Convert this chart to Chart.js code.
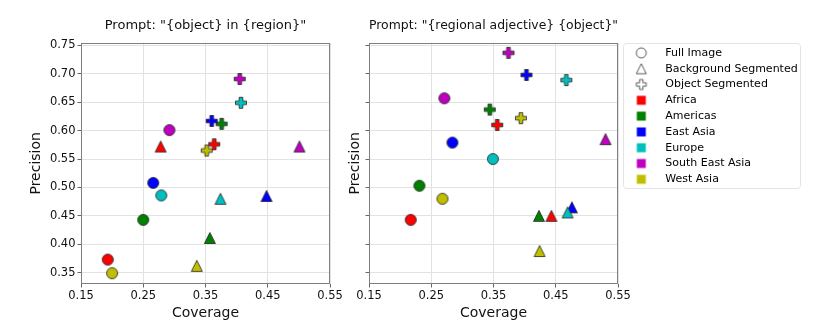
<!DOCTYPE html>
<html>
<head>
<meta charset="utf-8">
<script src="https://cdn.jsdelivr.net/npm/chart.js@4.4.1/dist/chart.umd.min.js"></script>
<style>
  body { margin: 0; background: #fff; }
  #wrap { position: relative; width: 820px; height: 330px; }
  canvas { position: absolute; top: 0; }
  #left { left: 0; }
  #right { left: 340px; }
</style>
</head>
<body>
<div id="wrap">
  <canvas id="left" width="360" height="330"></canvas>
  <canvas id="right" width="480" height="330"></canvas>
</div>
<script>
const regions = ["Africa", "Americas", "East Asia", "Europe", "South East Asia", "West Asia"];
const regionColors = ["#ff0000", "#008000", "#0000ff", "#00bfbf", "#bf00bf", "#bfbf00"];
const markerNames = ["Full Image", "Background Segmented", "Object Segmented"];
const markerShapes = ["circle", "triangle", "plus"];

const xTicks = [0.15, 0.25, 0.35, 0.45, 0.55];
const yTicks = [0.35, 0.40, 0.45, 0.50, 0.55, 0.60, 0.65, 0.70, 0.75];

// Prompt: "{object} in {region}"
const inFullCov = [0.193, 0.250, 0.266, 0.279, 0.292, 0.200];
const inFullPrec = [0.373, 0.443, 0.508, 0.486, 0.601, 0.349];
const inBgCov = [0.278, 0.357, 0.448, 0.374, 0.501, 0.336];
const inBgPrec = [0.572, 0.411, 0.485, 0.480, 0.572, 0.362];
const inObjCov = [0.364, 0.376, 0.360, 0.407, 0.405, 0.352];
const inObjPrec = [0.576, 0.612, 0.617, 0.649, 0.691, 0.565];

// Prompt: "{regional adjective} {object}"
const adjFullCov = [0.217, 0.231, 0.284, 0.349, 0.271, 0.268];
const adjFullPrec = [0.443, 0.503, 0.579, 0.550, 0.657, 0.480];
const adjBgCov = [0.443, 0.423, 0.476, 0.469, 0.530, 0.424];
const adjBgPrec = [0.450, 0.450, 0.465, 0.456, 0.585, 0.388];
const adjObjCov = [0.356, 0.344, 0.403, 0.467, 0.374, 0.394];
const adjObjPrec = [0.610, 0.637, 0.698, 0.689, 0.737, 0.622];

const FONT = "'DejaVu Sans', sans-serif";
const TEXT = "#111";

// small canvases used as point styles (matplotlib-like markers)
function marker(shape, fill, stroke, size) {
  const c = document.createElement("canvas");
  c.width = c.height = 16;
  const g = c.getContext("2d");
  const h = size / 2;
  g.translate(8, 8);
  g.beginPath();
  if (shape === "circle") {
    g.arc(0, 0, h, 0, Math.PI * 2);
  } else if (shape === "triangle") {
    g.moveTo(0, -h); g.lineTo(h, h); g.lineTo(-h, h); g.closePath();
  } else if (shape === "plus") {
    const a = size / 6;
    g.moveTo(-a, -h); g.lineTo(a, -h); g.lineTo(a, -a); g.lineTo(h, -a);
    g.lineTo(h, a); g.lineTo(a, a); g.lineTo(a, h); g.lineTo(-a, h);
    g.lineTo(-a, a); g.lineTo(-h, a); g.lineTo(-h, -a); g.lineTo(-a, -a);
    g.closePath();
  } else {
    g.rect(-h, -h, size, size);
  }
  g.fillStyle = fill;
  g.fill();
  if (stroke) {
    g.lineWidth = 0.8;
    g.strokeStyle = stroke;
    g.stroke();
  }
  return c;
}

function makeDatasets(covs, precs) {
  return markerShapes.map((shape, k) => ({
    label: markerNames[k],
    data: covs[k].map((x, i) => ({ x: x, y: precs[k][i] })),
    pointStyle: regionColors.map((col) => marker(shape, col, "#222", 11)),
    pointRadius: 5,
  }));
}

const frame = {
  id: "frame",
  beforeDatasetsDraw(chart) {
    const { ctx, chartArea: a } = chart;
    ctx.save();
    ctx.strokeStyle = "#808080";
    ctx.lineWidth = 1;
    const l = Math.round(a.left) + 0.5, t = Math.round(a.top) + 0.5;
    const r = Math.round(a.right) - 0.5, b = Math.round(a.bottom) - 0.5;
    ctx.strokeRect(l, t, r - l, b - t);
    ctx.restore();
  },
};

const legendFrame = {
  id: "legendFrame",
  afterDraw(chart) {
    const lg = chart.legend;
    if (!lg || !lg.options.display) return;
    const { ctx } = chart;
    ctx.save();
    ctx.strokeStyle = "#e4e4e4";
    ctx.lineWidth = 1;
    ctx.beginPath();
    ctx.roundRect(Math.round(lg.left + 5) + 0.5, Math.round(lg.top) + 0.5, 177, 145, 3);
    ctx.stroke();
    ctx.restore();
  },
};

function options(title, yWidth, yTitlePad, showLegend) {
  return {
    responsive: false,
    animation: false,
    events: [],
    layout: { padding: { left: 0, top: 0, bottom: 0, right: showLegend ? 22 : 30 } },
    plugins: {
      title: {
        display: true,
        text: title,
        fullSize: false,
        color: TEXT,
        font: { family: FONT, size: 13, weight: "normal" },
        padding: { top: 17.6, bottom: 9.4 },
      },
      legend: {
        display: showLegend,
        position: "right",
        align: "start",
        fullSize: false,
        maxWidth: 180,
        labels: {
          usePointStyle: true,
          pointStyleWidth: 37,
          padding: 4.8,
          color: TEXT,
          font: { family: FONT, size: 11 },
          generateLabels: () => {
            const items = markerShapes.map((shape, k) => ({
              text: markerNames[k],
              pointStyle: marker(shape, "#ffffff", "#333", 10),
              lineWidth: 0,
              hidden: false,
            }));
            regions.forEach((name, i) => {
              items.push({
                text: name,
                pointStyle: marker("square", regionColors[i], null, 9),
                lineWidth: 0,
                hidden: false,
              });
            });
            return items;
          },
        },
      },
      tooltip: { enabled: false },
    },
    scales: {
      x: {
        type: "linear",
        min: 0.15,
        max: 0.55,
        afterBuildTicks: (s) => { s.ticks = xTicks.map((v) => ({ value: v })); },
        afterFit: (s) => { s.height = 46; },
        border: { display: false },
        grid: { color: "#e2e2e2", tickColor: "#666", tickLength: 3.5 },
        ticks: {
          padding: 2,
          color: TEXT,
          font: { family: FONT, size: 11.5 },
          callback: (v) => v.toFixed(2),
        },
        title: {
          display: true,
          text: "Coverage",
          color: TEXT,
          font: { family: FONT, size: 14 },
          padding: { top: 0, bottom: 8.2 },
        },
      },
      y: {
        type: "linear",
        min: 0.33,
        max: 0.755,
        afterBuildTicks: (s) => { s.ticks = yTicks.map((v) => ({ value: v })); },
        afterFit: (s) => { s.width = yWidth; },
        border: { display: false },
        grid: { color: "#e2e2e2", tickColor: "#666", tickLength: 3.5 },
        ticks: {
          display: yWidth > 50,
          padding: 2,
          color: TEXT,
          font: { family: FONT, size: 11.5 },
          callback: (v) => v.toFixed(2),
        },
        title: {
          display: true,
          text: "Precision",
          color: TEXT,
          font: { family: FONT, size: 14 },
          padding: { top: yTitlePad, bottom: 0 },
        },
      },
    },
  };
}

new Chart(document.getElementById("left").getContext("2d"), {
  type: "scatter",
  data: {
    datasets: makeDatasets([inFullCov, inBgCov, inObjCov], [inFullPrec, inBgPrec, inObjPrec]),
  },
  options: options('Prompt: "{object} in {region}"', 81, 28, false),
  plugins: [frame],
});

new Chart(document.getElementById("right").getContext("2d"), {
  type: "scatter",
  data: {
    datasets: makeDatasets([adjFullCov, adjBgCov, adjObjCov], [adjFullPrec, adjBgPrec, adjObjPrec]),
  },
  options: options('Prompt: "{regional adjective} {object}"', 29, 6.5, true),
  plugins: [frame, legendFrame],
});
</script>
</body>
</html>
